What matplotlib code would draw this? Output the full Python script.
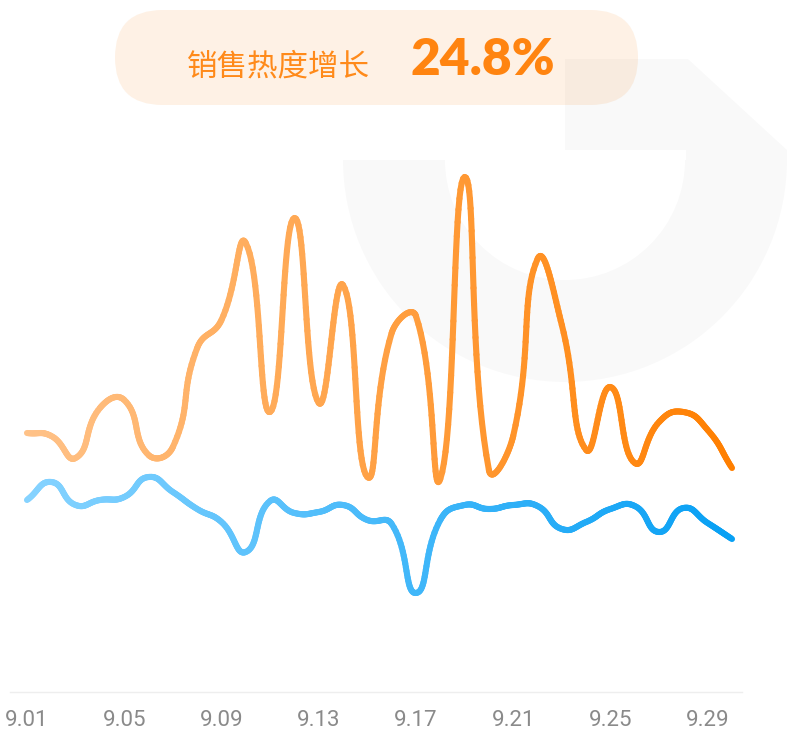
#!/usr/bin/env python3
"""Sales heat chart: two smoothed gradient lines over September."""
import matplotlib
matplotlib.use("Agg")
import matplotlib.pyplot as plt
import numpy as np
from matplotlib.collections import LineCollection
from matplotlib.colors import LinearSegmentedColormap
from matplotlib.patches import FancyBboxPatch, Polygon, Wedge

# ---- data ----
days = [f"9.{d:02d}" for d in range(1, 31)]
heat = [51.8, 51.2, 46.8, 56.8, 58.4, 47.4, 49.0, 68.8, 74.4, 89.8,
        56.0, 94.8, 57.8, 81.4, 43.0, 71.8, 75.2, 42.6, 103.0, 44.4,
        51.2, 86.6, 73.4, 48.4, 61.0, 45.8, 54.0, 56.0, 52.4, 44.8]
base = [38.4, 42.0, 37.4, 38.4, 39.0, 43.0, 40.0, 36.6, 34.0, 28.0,
        38.2, 35.8, 36.0, 37.4, 34.4, 33.6, 19.8, 34.4, 37.4, 36.6,
        37.4, 37.2, 32.6, 34.0, 36.6, 37.2, 32.0, 36.8, 33.8, 30.6]
tick_every = 4
title_text = "销售热度增长"
growth_text = "24.8%"

ORANGE = ("#ffc288", "#ff7f00")
BLUE = ("#86d3ff", "#08a0f4")

W, H = 787, 734


def smooth_curve(ax, xs, ys, smooth=0.5, steps=24):
    """Echarts-style bezier smoothing, done in screen space."""
    pts = ax.transData.transform(np.column_stack([xs, ys]))
    n = len(pts)
    cps = []
    for i in range(n):
        prev = pts[max(i - 1, 0)]
        nxt = pts[min(i + 1, n - 1)]
        cur = pts[i]
        d = nxt - prev
        l0 = np.hypot(*(cur - prev))
        l1 = np.hypot(*(nxt - cur))
        r = l1 / (l0 + l1) if (l0 + l1) > 0 else 0.5
        cps.append((cur - d * smooth * (1 - r), cur + d * smooth * r))
    t = np.linspace(0, 1, steps)[:, None]
    out = [pts[:1]]
    for i in range(n - 1):
        p0, p3 = pts[i], pts[i + 1]
        c1, c2 = cps[i][1], cps[i + 1][0]
        seg = ((1 - t) ** 3 * p0 + 3 * (1 - t) ** 2 * t * c1
               + 3 * (1 - t) * t ** 2 * c2 + t ** 3 * p3)
        out.append(seg[1:])
    return ax.transData.inverted().transform(np.vstack(out))


def gradient_line(ax, xs, ys, colors, lw=4.4):
    curve = smooth_curve(ax, xs, ys)
    segs = np.stack([curve[:-1], curve[1:]], axis=1)
    cmap = LinearSegmentedColormap.from_list("g", colors)
    frac = (segs[:, 0, 0] - xs[0]) / (xs[-1] - xs[0])
    lc = LineCollection(segs, colors=cmap(frac), linewidths=lw,
                        capstyle="round", joinstyle="round", zorder=3)
    ax.add_collection(lc)


fig = plt.figure(figsize=(W / 100, H / 100), dpi=100)

# background decoration in pixel coords
bg = fig.add_axes([0, 0, 1, 1])
bg.set_xlim(0, W)
bg.set_ylim(H, 0)
bg.axis("off")
bg.add_patch(FancyBboxPatch((115, 10), 523, 95,
                            boxstyle="round,pad=0,rounding_size=47.5",
                            fc="#fef1e5", ec="none"))
shade = dict(fc="black", alpha=0.024, ec="none")
bg.add_patch(Wedge((565, 160), 222, 0, 180, width=102, **shade))
bg.add_patch(Polygon([(565, 59), (688, 59), (787, 150), (787, 160),
                      (686, 160), (686, 150), (565, 150)], **shade))

# main chart
bottom_px, top_px = 692, 120
ax = fig.add_axes([10 / W, 1 - bottom_px / H, 732 / W, (bottom_px - top_px) / H])
ax.patch.set_alpha(0)
x = np.arange(len(days))
px_day = (732 - 27) / (len(days) - 1)
ax.set_xlim(-(27 - 10) / px_day, len(days) - 1 + (742 - 732) / px_day)
ax.set_ylim(0, (bottom_px - top_px) / 5)

gradient_line(ax, x, base, BLUE)
gradient_line(ax, x, heat, ORANGE)

for s in ["top", "left", "right"]:
    ax.spines[s].set_visible(False)
ax.spines["bottom"].set_color("#eeeeee")
ax.spines["bottom"].set_linewidth(1.0)
ax.set_yticks([])
ax.set_xticks(x[::tick_every])
ax.set_xticklabels(days[::tick_every], color="#8a8a8a", fontsize=16,
                   family=["Roboto", "DejaVu Sans"])
ax.tick_params(axis="x", length=0, pad=13)

fig.text(187 / W, 1 - 75 / H, title_text, fontsize=22, color="#ff8a1a",
         family=["Noto Sans CJK SC", "DejaVu Sans"], ha="left", va="baseline")
fig.text(410 / W, 1 - 75 / H, growth_text, fontsize=37, color="#ff8410",
         family=["Lato", "DejaVu Sans"], weight="heavy",
         ha="left", va="baseline")

fig.savefig("out.png", dpi=100)
